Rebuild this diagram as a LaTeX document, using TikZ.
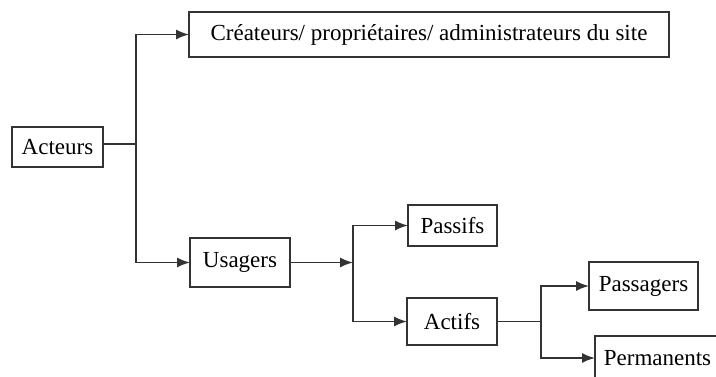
\documentclass[tikz,border=0pt]{standalone}
\usepackage{fontspec}
\setmainfont{Liberation Serif}
\usetikzlibrary{arrows.meta}
\tikzset{
        box/.style={draw=black!80, line width=1.5pt, inner sep=2pt, outer sep=0pt,
                    font=\fontsize{23}{27}\selectfont},
        link/.style={draw=black!80, line width=1.5pt},
        arr/.style={link, -{Latex[length=13pt,width=10pt]}}
    }

\begin{document}
\begin{tikzpicture}[x=1pt, y=-1pt]
            \useasboundingbox (0,0) rectangle (716,376);
            \node [box, minimum width=91, minimum height=40] (1) at (57.5, 147) {Acteurs};
            \node [box, minimum width=480, minimum height=45] (2) at (429, 34.5) {Créateurs/ propriétaires/ administrateurs du site};
            \node [box, minimum width=100, minimum height=49] (3) at (240, 262.5) {Usagers};
            \node [box, minimum width=89, minimum height=41] (4) at (452.5, 225.5) {Passifs};
            \node [box, minimum width=90, minimum height=47] (5) at (452, 321.5) {Actifs};
            \node [box, minimum width=109, minimum height=48] (6) at (643.5, 286) {Passagers};
            \node [box, minimum width=125, minimum height=44] (7) at (657.5, 358) {Permanents};

            \coordinate (a) at (136, 144);
            \coordinate (b) at (353, 262.5);
            \coordinate (c) at (541, 321.5);

            \draw [link] (1.east |- a) -- (a);
            \draw [arr] (a) |- (2);
            \draw [arr] (a) |- (3);
            \draw [arr] (3) -- (b);
            \draw [arr] (b) |- (4);
            \draw [arr] (b) |- (5);
            \draw [link] (5) -- (c);
            \draw [arr] (c) |- (6);
            \draw [arr] (c) |- (7);
        \end{tikzpicture}
\end{document}
